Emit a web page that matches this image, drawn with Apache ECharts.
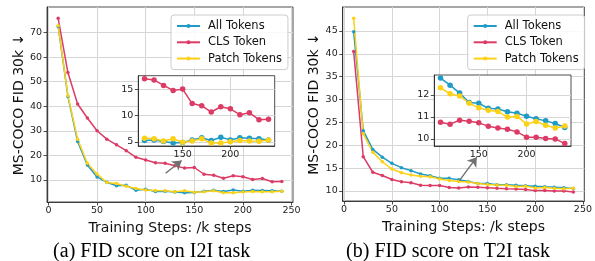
<!DOCTYPE html>
<html>
<head>
<meta charset="utf-8">
<script src="https://cdn.jsdelivr.net/npm/echarts@6/dist/echarts.min.js"></script>
<style>
html, body { margin: 0; padding: 0; background: #fff; }
#chart { width: 595px; height: 261px; }
</style>
</head>
<body>
<div id="chart"></div>
<script>
// training steps (k)
const steps = [10, 20, 30, 40, 50, 60, 70, 80, 90, 100, 110, 120, 130, 140, 150, 160, 170, 180, 190, 200, 210, 220, 230, 240]
const insetFrom = 10 // insets start at 110k

// (a) I2I
const i2iAll = [72.5, 44.0, 25.6, 16.1, 11.2, 9.0, 7.6, 7.8, 5.8, 6.2, 5.3, 5.4, 5.1, 4.8, 4.9, 5.4, 5.8, 5.3, 5.9, 5.4, 5.8, 5.7, 5.6, 5.4]
const i2iCls = [75.8, 53.7, 40.9, 35.2, 30.0, 26.6, 24.3, 21.9, 19.2, 18.1, 17.0, 16.8, 15.75, 14.8, 15.05, 12.3, 11.9, 10.7, 11.7, 11.3, 10.2, 10.55, 9.25, 9.3]
const i2iPatch = [72.8, 44.3, 26.6, 16.8, 12.4, 8.9, 8.5, 7.4, 6.5, 5.9, 5.7, 5.6, 5.2, 5.6, 4.95, 5.2, 5.6, 4.8, 4.8, 5.05, 5.3, 5.2, 5.15, 5.4]

// (b) T2I
const t2iAll = [44.85, 23.2, 19.1, 17.4, 16.05, 15.1, 14.45, 13.7, 13.35, 12.8, 12.76, 12.44, 12.08, 11.65, 11.62, 11.39, 11.36, 11.23, 11.17, 11.03, 10.92, 10.82, 10.7, 10.52]
const t2iCls = [40.5, 17.5, 14.1, 13.4, 12.5, 12.0, 11.8, 11.25, 11.2, 11.2, 10.76, 10.67, 10.85, 10.8, 10.73, 10.58, 10.5, 10.44, 10.32, 10.08, 10.08, 10.02, 10.0, 9.79]
const t2iPatch = [47.8, 22.5, 18.5, 16.4, 14.8, 14.0, 13.5, 13.2, 13.1, 12.6, 12.32, 12.05, 11.95, 11.62, 11.41, 11.3, 11.24, 11.0, 11.02, 10.68, 10.79, 10.62, 10.5, 10.59]

// tick labels
const mainXTicks = [0, 50, 100, 150, 200, 250]
const i2iYTicks = [10, 20, 30, 40, 50, 60, 70]
const t2iYTicks = [10, 15, 20, 25, 30, 35, 40, 45]
const insetXTicks = [150, 200]
const i2iInsetYTicks = [5, 10, 15]
const t2iInsetYTicks = [10, 11, 12]

// arrows pointing at the zoomed region, [from, to] in data units
const i2iArrow = [[120.5, 12.7], [137, 17.9]]
const t2iArrow = [[120.6, 12.25], [138.9, 17.4]]

const names = ['All Tokens', 'CLS Token', 'Patch Tokens']
const colors = ['#1f9bc6', '#dc3b65', '#fcd116']
const font = 'DejaVu Sans'

function xAxis(gridIndex, min, max, ticks, z, withName) {
  return {
    type: 'value', gridIndex, min, max, z,
    name: withName ? 'Training Steps: /k steps' : '',
    nameLocation: 'middle', nameGap: 12,
    nameTextStyle: { fontFamily: font, fontSize: 14, color: '#111' },
    axisLine: { show: true, onZero: false, lineStyle: { color: '#222', width: 0.8 } },
    axisTick: { show: true, length: 3.5, customValues: ticks, lineStyle: { color: '#222', width: 0.8 } },
    axisLabel: { customValues: ticks, margin: 4, fontFamily: font, fontSize: 9.5, color: '#222' },
    splitLine: { show: true, lineStyle: { color: '#d6d6d6', width: 1 } }
  }
}

function yAxis(gridIndex, min, max, ticks, z, withName) {
  return {
    type: 'value', gridIndex, min, max, z,
    name: withName ? 'MS-COCO FID 30k ↓' : '',
    nameLocation: 'middle', nameGap: 17,
    nameTextStyle: { fontFamily: font, fontSize: 14, color: '#111' },
    axisLine: { show: true, onZero: false, lineStyle: { color: '#222', width: 0.8 } },
    axisTick: { show: true, length: 3.5, customValues: ticks, lineStyle: { color: '#222', width: 0.8 } },
    axisLabel: { customValues: ticks, margin: 5, fontFamily: font, fontSize: 9.5, color: '#222' },
    splitLine: { show: true, lineStyle: { color: '#d6d6d6', width: 1 } }
  }
}

function lines(axisIndex, groups, inset, arrow) {
  return groups.map((vals, k) => {
    const from = inset ? insetFrom : 0
    const s = {
      name: names[k], type: 'line',
      xAxisIndex: axisIndex, yAxisIndex: axisIndex,
      data: steps.slice(from).map((x, i) => [x, vals[from + i]]),
      symbol: 'circle', symbolSize: inset ? 5.5 : 3.5,
      itemStyle: { color: colors[k] },
      lineStyle: { color: colors[k], width: 1.5 },
      z: inset ? 7 : 2
    }
    if (arrow && k === 1) {
      s.markLine = {
        silent: true, symbol: ['none', 'arrow'], symbolSize: 9,
        label: { show: false },
        itemStyle: { color: '#707070' },
        lineStyle: { color: '#707070', width: 1.4, type: 'solid' },
        data: [[{ coord: arrow[0] }, { coord: arrow[1] }]]
      }
    }
    return s
  })
}

function legend(left) {
  return {
    data: names, orient: 'vertical', left, top: 15,
    itemWidth: 23, itemHeight: 5, itemGap: 2.3,
    padding: [4, 6, 4, 5],
    backgroundColor: 'rgba(255,255,255,0.85)', borderColor: '#cccccc', borderWidth: 1, borderRadius: 3,
    textStyle: { fontFamily: font, fontSize: 11.5, color: '#111', lineHeight: 14, padding: [0, 0, 0, 3] },
    z: 10
  }
}

function caption(x, text) {
  return {
    type: 'text', x, y: 252,
    style: { text, font: '20px "Liberation Serif"', fill: '#000', align: 'center', verticalAlign: 'middle' }
  }
}

const frame = { show: true, backgroundColor: '#fff', borderColor: '#222', borderWidth: 0.8 }

const option = {
  animation: false,
  grid: [
    { left: 47, top: 7, width: 246, height: 195, ...frame },
    { left: 342.7, top: 7, width: 244.3, height: 194, ...frame },
    { left: 138.3, top: 75.7, width: 136.4, height: 70.3, ...frame, z: 5 },
    { left: 434.3, top: 75, width: 136.7, height: 71, ...frame, z: 5 }
  ],
  xAxis: [
    xAxis(0, -1.5, 251.5, mainXTicks, 0, true),
    xAxis(1, -1.5, 251.5, mainXTicks, 0, true),
    xAxis(2, 103.5, 246.5, insetXTicks, 6, false),
    xAxis(3, 103.5, 246.5, insetXTicks, 6, false)
  ],
  yAxis: [
    yAxis(0, 1.0, 80.4, i2iYTicks, 0, true),
    yAxis(1, 7.81, 50.25, t2iYTicks, 0, true),
    yAxis(2, 4.24, 17.6, i2iInsetYTicks, 6, false),
    yAxis(3, 9.68, 12.9, t2iInsetYTicks, 6, false)
  ],
  legend: [legend(171), legend(467.7)],
  series: [
    ...lines(0, [i2iAll, i2iCls, i2iPatch], false, i2iArrow),
    ...lines(1, [t2iAll, t2iCls, t2iPatch], false, t2iArrow),
    ...lines(2, [i2iAll, i2iCls, i2iPatch], true),
    ...lines(3, [t2iAll, t2iCls, t2iPatch], true)
  ],
  graphic: [
    caption(151.7, '(a) FID score on I2I task'),
    caption(448, '(b) FID score on T2I task')
  ]
}

const chartIns = echarts.init(document.getElementById('chart'), null, { renderer: 'canvas' })
chartIns.setOption(option)
</script>
</body>
</html>
